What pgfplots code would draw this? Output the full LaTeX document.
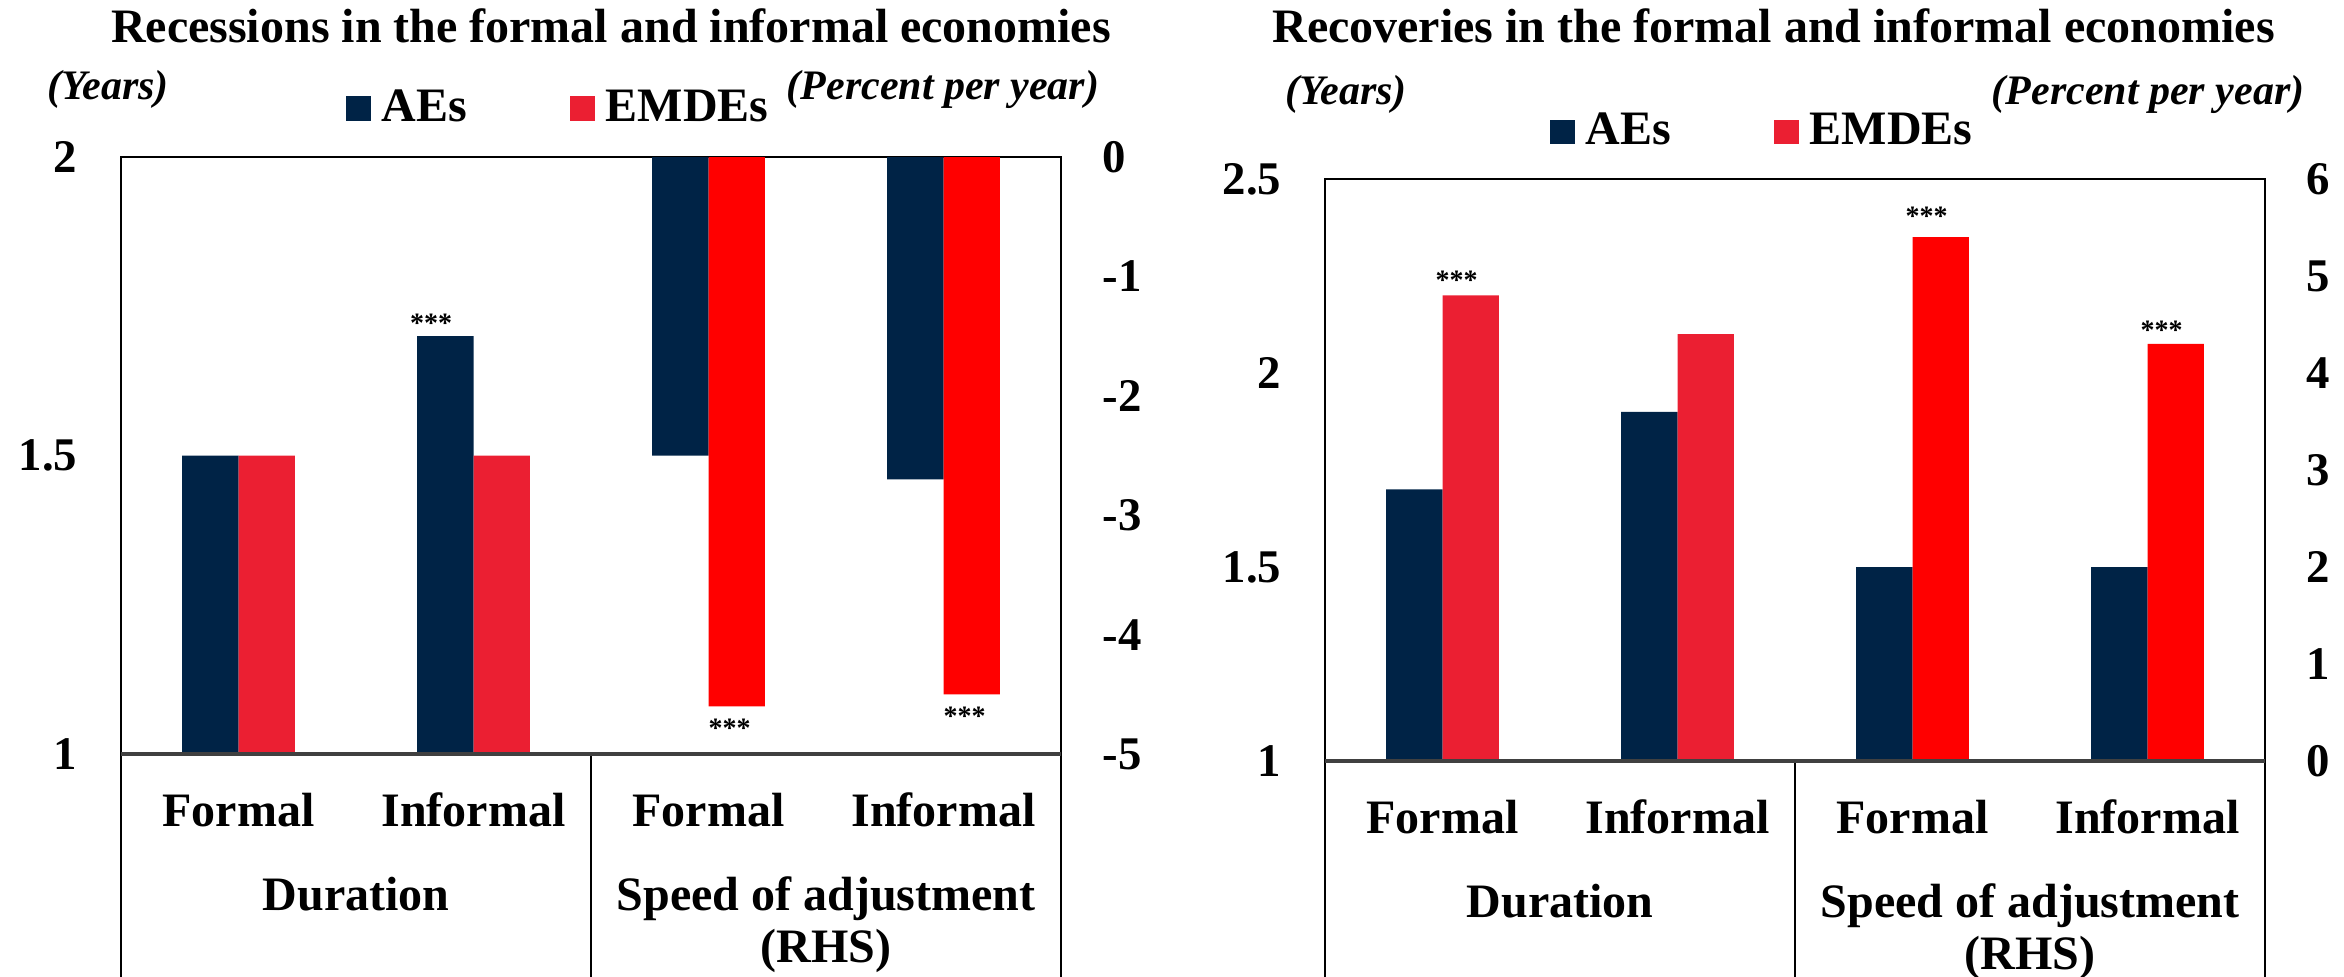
\documentclass[border=0pt]{standalone}
\usepackage{fontspec}
\setmainfont{Liberation Serif}
\usepackage{pgfplots}
\pgfplotsset{compat=1.18}
\definecolor{navy}{RGB}{0,35,70}
\definecolor{redA}{RGB}{235,31,50}
\definecolor{redB}{RGB}{255,0,0}
\newcommand{\fs}[1]{\fontsize{#1}{#1}\selectfont\bfseries}

\pgfplotsset{
  panel/.style={
    scale only axis, width=235pt,
    xmin=-0.5, xmax=3.5,
    ybar, bar width=0.24,
    major tick length=0pt,
    axis line style={line width=0.4pt},
    clip mode=individual,
    tick label style={font=\fs{11.7}, inner sep=0pt},
  },
  leftax/.style={yticklabel pos=left, yticklabel style={anchor=east, xshift=-10.75pt},
    xtick={0,1,2,3}, xticklabels={Formal,Informal,Formal,Informal},
    xticklabel style={anchor=base, yshift=-18pt, font=\fs{12}},
    legend columns=2,
    legend style={draw=none, fill=none, inner sep=0pt, font=\fs{12}, anchor=west,
      /tikz/every odd column/.style={column sep=2.75pt},
      /tikz/every even column/.style={column sep=25.75pt},
      nodes={inner sep=0pt}},
    legend image code/.code={\fill[##1] (0pt,-3.1pt) rectangle (6.2pt,3.1pt);},
  },
  rightax/.style={yticklabel pos=right, yticklabel style={anchor=west, xshift=10.25pt}, xtick=\empty},
}

\begin{document}
\begin{tikzpicture}[font=\bfseries]
\useasboundingbox (0,0) rectangle (586pt,244pt);

% ---------- Left panel ----------
\begin{axis}[panel, leftax, at={(30.25pt,55.5pt)}, anchor=south west, height=149.25pt,
  ymin=1, ymax=2, ytick={1,1.5,2}, yticklabels={1,1.5,2},
  legend style={at={(0.2383,1.081)}}]
\addplot[fill=navy, draw=none, bar shift=-0.12] coordinates {(0,1.5) (1,1.7)};
\addplot[fill=redA, draw=none, bar shift=0.12] coordinates {(0,1.5) (1,1.5)};
\legend{AEs,EMDEs}
\node[font=\fs{7}, anchor=base, yshift=1pt] at (axis cs:0.82,1.7) {***};
\end{axis}
\begin{axis}[panel, rightax, at={(30.25pt,55.5pt)}, anchor=south west, height=149.25pt,
  ymin=-5, ymax=0, ytick={-5,-4,-3,-2,-1,0}, yticklabels={-5,-4,-3,-2,-1,0}]
\addplot[fill=navy, draw=none, bar shift=-0.12] coordinates {(2,-2.5) (3,-2.7)};
\addplot[fill=redB, draw=none, bar shift=0.12] coordinates {(2,-4.6) (3,-4.5)};
\node[font=\fs{7}, anchor=base, yshift=-7.75pt] at (axis cs:2.09,-4.6) {***};
\node[font=\fs{7}, anchor=base, yshift=-7.75pt] at (axis cs:3.09,-4.5) {***};
\draw[line width=0.4pt] (rel axis cs:0,0) -- ++(0pt,-56pt);
\draw[line width=0.4pt] (rel axis cs:0.5,0) -- ++(0pt,-56pt);
\draw[line width=0.4pt] (rel axis cs:1,0) -- ++(0pt,-56pt);
\draw[line width=0.9pt, black!75] (rel axis cs:0,0) -- (rel axis cs:1,0);
\node[font=\fs{12}, anchor=base, yshift=-39pt] at (rel axis cs:0.25,0) {Duration};
\node[font=\fs{12}, anchor=base, yshift=-39pt] at (rel axis cs:0.75,0) {Speed of adjustment};
\node[font=\fs{12}, anchor=base, yshift=-52pt] at (rel axis cs:0.75,0) {(RHS)};
\end{axis}

% ---------- Right panel ----------
\begin{axis}[panel, leftax, at={(331.25pt,53.75pt)}, anchor=south west, height=145.5pt,
  ymin=1, ymax=2.5, ytick={1,1.5,2,2.5}, yticklabels={1,1.5,2,2.5},
  legend style={at={(0.2383,1.0808)}}]
\addplot[fill=navy, draw=none, bar shift=-0.12] coordinates {(0,1.7) (1,1.9)};
\addplot[fill=redA, draw=none, bar shift=0.12] coordinates {(0,2.2) (1,2.1)};
\legend{AEs,EMDEs}
\node[font=\fs{7}, anchor=base, yshift=1.5pt] at (axis cs:0.06,2.2) {***};
\end{axis}
\begin{axis}[panel, rightax, at={(331.25pt,53.75pt)}, anchor=south west, height=145.5pt,
  ymin=0, ymax=6, ytick={0,1,2,3,4,5,6}, yticklabels={0,1,2,3,4,5,6}]
\addplot[fill=navy, draw=none, bar shift=-0.12] coordinates {(2,2.0) (3,2.0)};
\addplot[fill=redB, draw=none, bar shift=0.12] coordinates {(2,5.4) (3,4.3)};
\node[font=\fs{7}, anchor=base, yshift=3pt] at (axis cs:2.06,5.4) {***};
\node[font=\fs{7}, anchor=base, yshift=1pt] at (axis cs:3.06,4.3) {***};
\draw[line width=0.4pt] (rel axis cs:0,0) -- ++(0pt,-54pt);
\draw[line width=0.4pt] (rel axis cs:0.5,0) -- ++(0pt,-54pt);
\draw[line width=0.4pt] (rel axis cs:1,0) -- ++(0pt,-54pt);
\draw[line width=0.9pt, black!75] (rel axis cs:0,0) -- (rel axis cs:1,0);
\node[font=\fs{12}, anchor=base, yshift=-39pt] at (rel axis cs:0.25,0) {Duration};
\node[font=\fs{12}, anchor=base, yshift=-39pt] at (rel axis cs:0.75,0) {Speed of adjustment};
\node[font=\fs{12}, anchor=base, yshift=-52pt] at (rel axis cs:0.75,0) {(RHS)};
\end{axis}

% ---------- Titles and unit labels ----------
\node[font=\fs{12}, anchor=base] at (152.75pt,233.25pt) {Recessions in the formal and informal economies};
\node[font=\fs{12}, anchor=base] at (443.4pt,233.25pt) {Recoveries in the formal and informal economies};
\node[font=\fs{10.5}\itshape, anchor=base] at (27pt,219pt) {(Years)};
\node[font=\fs{10.5}\itshape, anchor=base] at (235.75pt,219pt) {(Percent per year)};
\node[font=\fs{10.5}\itshape, anchor=base] at (336.5pt,217.75pt) {(Years)};
\node[font=\fs{10.5}\itshape, anchor=base] at (537pt,217.75pt) {(Percent per year)};
\end{tikzpicture}
\end{document}
